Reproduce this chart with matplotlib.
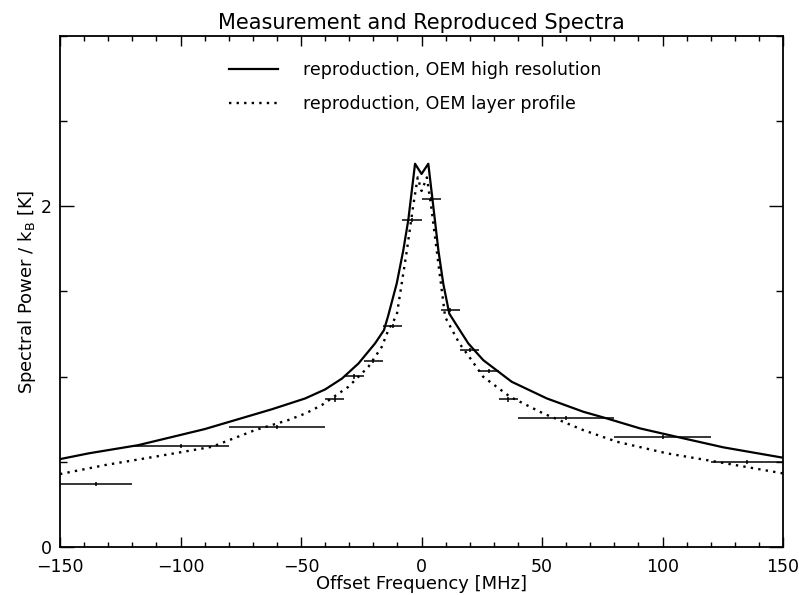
import matplotlib
matplotlib.use("Agg")
import matplotlib.pyplot as plt
from matplotlib.ticker import MultipleLocator

# high resolution reproduction (solid)
hr_freq = [-150, -138, -117.5, -90, -62, -48.3, -40, -33, -26.2, -19.3, -15.6, -13.8, -10.3,
           -7.6, -5.5, -2.7, 0, 2.8, 4.5, 7.0, 9.0, 11.5, 16, 19.4, 25.6, 37.4, 52,
           67.1, 76.8, 90.7, 108.6, 125.2, 150]
hr_power = [0.516, 0.55, 0.598, 0.692, 0.809, 0.872, 0.925, 0.989, 1.077, 1.195, 1.273, 1.36, 1.547,
            1.74, 1.92, 2.25, 2.19, 2.25, 2.045, 1.74, 1.547, 1.37, 1.27, 1.195, 1.097, 0.97, 0.872,
            0.794, 0.755, 0.696, 0.638, 0.585, 0.524]

# layer profile reproduction (dotted)
lp_freq = [-150, -131.3, -110.6, -87, -69.1, -55.3, -48, -41.4, -30.4, -22.1, -16.5, -13.8, -10.3,
           -6.1, -3.5, -1.6, 0, 2.2, 4, 6.3, 9.8, 15.7, 19.8, 25.6, 36.7, 50.5, 67.1,
           81, 101.7, 122.5, 150]
lp_power = [0.428, 0.481, 0.53, 0.588, 0.686, 0.745, 0.785, 0.833, 0.94, 1.057, 1.175, 1.273, 1.36,
            1.74, 2.0, 2.17, 2.09, 2.17, 2.0, 1.74, 1.35, 1.195, 1.116, 0.999, 0.882, 0.784, 0.686,
            0.618, 0.55, 0.50, 0.432]

# measurement channels
ch_lo = [-150, -120, -80, -40, -32, -24, -16, -8, 0, 8, 16, 24, 32, 40, 80, 120]
ch_hi = [-120, -80, -40, -32, -24, -16, -8, 0, 8, 16, 24, 32, 40, 80, 120, 150]
ch_power = [0.371, 0.594, 0.706, 0.866, 1.001, 1.093, 1.298, 1.918, 2.043,
            1.39, 1.155, 1.032, 0.866, 0.758, 0.645, 0.50]

fig = plt.figure(figsize=(7.99, 5.95), dpi=100)
ax = fig.add_axes([0.0751, 0.0807, 0.905, 0.8588])

ax.plot(hr_freq, hr_power, color="black", lw=1.6, label="reproduction, OEM high resolution")
ax.plot(lp_freq, lp_power, color="black", lw=1.7, linestyle=(0, (1, 2.2)),
        label="reproduction, OEM layer profile")

centers = [(a + b) / 2 for a, b in zip(ch_lo, ch_hi)]
halfw = [(b - a) / 2 for a, b in zip(ch_lo, ch_hi)]
ax.errorbar(centers, ch_power, xerr=halfw, yerr=0.012, fmt="none", ecolor="black",
            elinewidth=1.1, capsize=0)

ax.set_xlim(-150, 150)
ax.set_ylim(0, 3)
ax.xaxis.set_major_locator(MultipleLocator(50))
ax.xaxis.set_minor_locator(MultipleLocator(10))
ax.yaxis.set_major_locator(MultipleLocator(2))
ax.yaxis.set_minor_locator(MultipleLocator(0.5))
ax.tick_params(which="both", direction="in", top=True, right=True, labelsize=12.5)
ax.tick_params(axis="x", which="major", length=7, width=1, pad=8)
ax.tick_params(axis="x", which="minor", length=3.6, width=1)
ax.tick_params(axis="y", which="major", length=10, width=1, pad=6)
ax.tick_params(axis="y", which="minor", length=5, width=1)
for s in ax.spines.values():
    s.set_linewidth(1.3)

ax.set_title("Measurement and Reproduced Spectra", fontsize=15, pad=5)
ax.set_xlabel("Offset Frequency [MHz]", fontsize=13, labelpad=-1)
ax.set_ylabel(r"Spectral Power / k$_\mathregular{B}$ [K]", fontsize=13, labelpad=2)

ax.legend(loc="upper left", bbox_to_anchor=(0.212, 0.982), frameon=False, fontsize=12.5,
          handlelength=2.8, handletextpad=1.45, labelspacing=0.95)

fig.savefig("out.png", dpi=100)
